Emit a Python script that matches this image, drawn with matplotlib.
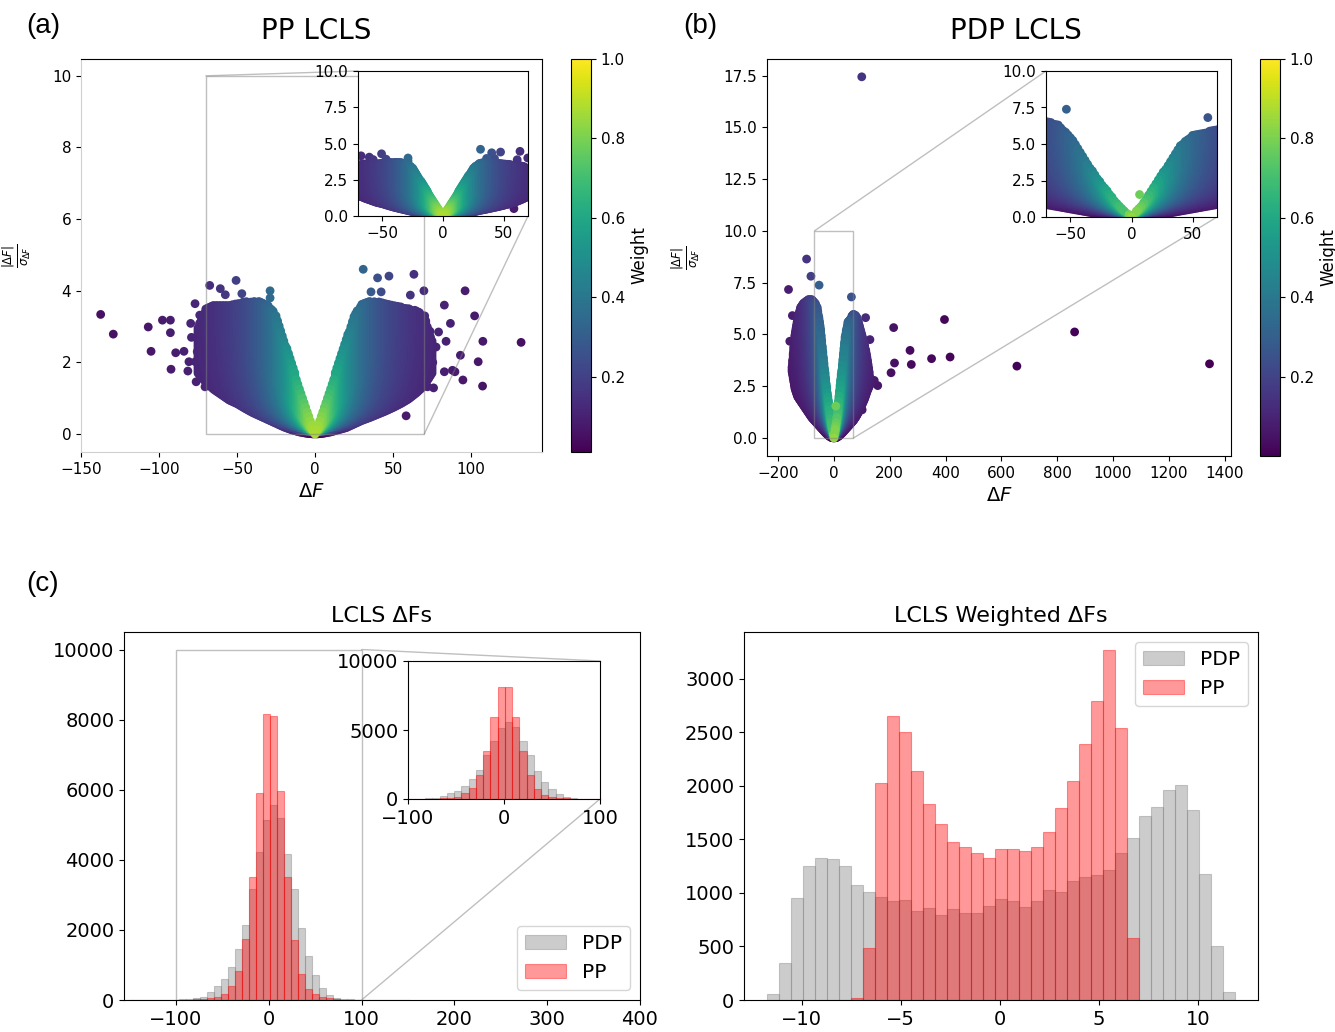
import numpy as np
import matplotlib
matplotlib.use("Agg")
import matplotlib.pyplot as plt
from matplotlib.colors import Normalize
from matplotlib.patches import Rectangle, ConnectionPatch

# ---------------- PP LCLS: |dF|/sigma vs dF ----------------
# dense body of the cloud: lower / upper |dF|/sigma bound per dF
pp_env_df = [-75, -70, -65, -60, -55, -50, -45, -40, -35, -30, -25, -20, -15, -10, -5, 0,
             5, 10, 15, 20, 25, 30, 35, 40, 45, 50, 55, 60, 65, 70, 75]
pp_env_top = [3.0, 3.5, 3.6, 3.6, 3.6, 3.65, 3.7, 3.7, 3.7, 3.6, 3.3, 2.65, 2.0, 1.3, 0.65, 0.05,
              0.65, 1.3, 2.0, 2.65, 3.3, 3.65, 3.7, 3.7, 3.65, 3.6, 3.55, 3.5, 3.45, 3.3, 2.6]
pp_env_bot = [1.7, 1.45, 1.25, 1.1, 0.95, 0.85, 0.72, 0.6, 0.5, 0.4, 0.3, 0.2, 0.12, 0.06, 0.02, 0.0,
              0.02, 0.06, 0.12, 0.18, 0.28, 0.38, 0.46, 0.55, 0.64, 0.74, 0.85, 0.98, 1.15, 1.35, 1.7]
# isolated PP reflections outside the dense body
pp_out_df = [-137.4, -129.3, -106.9, -105.1, -97.8, -92.7, -92.7, -92.3, -89.3, -84.0, -81.5, -80.8,
             -79.7, -79.2, -76.9, -76.2, -75.5, -76.7, -72.8, -70.5, -73.9, -67.5, -60.7, -57.5,
             -50.6, -46.9, -55.6, -28.8, -28.8, -26.8, -64.8,
             30.9, 40.1, 47.4, 63.4, 35.9, 42.4, 61.1, 69.8, 96.2, 102.3, 82.9, 86.8, 79.2, 73.7,
             70.3, 84.0, 77.6, 88.1, 82.9, 75.5, 93.2, 94.8, 104.6, 107.6, 107.4, 89.7, 132.1,
             72.1, 76.0, 58.4, 64.6]
pp_out_y = [3.34, 2.79, 2.99, 2.31, 3.18, 3.18, 2.83, 1.81, 2.27, 2.31, 1.76, 2.02,
            3.09, 2.70, 3.64, 1.46, 2.30, 2.02, 1.63, 1.32, 3.32, 4.15, 4.06, 3.89,
            4.29, 3.92, 0.99, 4.00, 3.80, 3.43, 1.53,
            4.60, 4.36, 4.41, 4.46, 3.97, 3.97, 3.88, 4.00, 4.00, 3.30, 3.60, 3.09, 2.85, 2.87,
            3.30, 2.59, 2.43, 1.78, 1.74, 2.00, 2.20, 1.51, 2.02, 2.59, 1.34, 1.74, 2.56,
            1.32, 1.29, 0.51, 1.64]

# ---------------- PDP LCLS ----------------
pdp_env_df = [-150, -140, -130, -120, -110, -100, -90, -80, -70, -60, -50, -40, -30, -20, -10, 0,
              10, 20, 30, 40, 50, 60, 70, 80, 90, 100, 110, 120, 130]
pdp_env_top = [3.5, 5.0, 5.8, 6.3, 6.5, 6.6, 6.7, 6.7, 6.6, 6.3, 5.5, 4.2, 2.9, 1.8, 0.75, 0.05,
               1.0, 2.3, 3.6, 4.9, 5.6, 5.8, 6.0, 5.9, 5.5, 5.0, 4.5, 3.8, 2.8]
pdp_env_bot = [3.2, 2.4, 2.0, 1.8, 1.6, 1.4, 1.2, 1.0, 0.85, 0.7, 0.55, 0.4, 0.25, 0.12, 0.03, 0.0,
               0.03, 0.12, 0.25, 0.4, 0.55, 0.7, 0.85, 1.05, 1.3, 1.6, 1.9, 2.3, 2.6]
pdp_out_df = [99.6, 213.9, 217.0, 204.6, 272.6, 277.2, 349.8, 396.1, 416.2, 655.6, 862.5, 1346.0,
              156.8, 144.4, 101.0, 128.9, 113.4, 62.5,
              -162.9, -149.0, -158.3, -98.1, -82.6, -53.3, -133.6, -129.0, -110.4, -45.6, -136.7,
              6.6]
pdp_out_y = [17.44, 5.33, 3.62, 3.15, 4.23, 3.55, 3.83, 5.72, 3.91, 3.47, 5.12, 3.58,
             2.53, 2.78, 1.36, 4.75, 5.81, 6.81,
             7.17, 5.91, 4.67, 8.64, 7.81, 7.38, 2.86, 2.41, 1.81, 0.52, 4.55,
             1.54]

# weighting scheme parameters (sigma scale, dF scale, dF exponent, sigma floor)
pp_weight_par = (45.0, 20.0, 1.5, 17.0)
pdp_weight_par = (25.0, 32.0, 1.5, 11.0)

# ---------------- histograms of dF ----------------
dF_bin_start = -150.1
dF_bin_width = 7.55
pdp_dF_counts = [3, 4, 5, 6, 8, 10, 14, 20, 30, 50,
                 85, 228, 399, 589, 940, 1444, 2137, 3153, 4217, 5147, 5575, 5195, 4179, 3172,
                 2051, 1254, 703, 351, 142, 66, 28,
                 18, 12, 9, 7, 6, 5, 4, 3, 3]
pp_dF_counts = [2, 3, 3, 4, 5, 6, 8, 10, 12, 15,
                25, 47, 85, 161, 399, 826, 1747, 3514, 5907, 8150, 8100, 5955, 3514, 1709,
                731, 323, 161, 85, 47, 20, 10,
                8, 6, 5, 4, 3, 3, 2, 2, 2]

# ---------------- histograms of weighted dF ----------------
wdF_bin_start = -11.73
wdF_bin_width = 0.604
pdp_wdF_counts = [56, 348, 957, 1250, 1327, 1312, 1250, 1072, 1010, 964, 923, 932, 833, 855,
                  793, 846, 808, 808, 880, 945, 923, 870, 923, 1026, 1010, 1113, 1150, 1163,
                  1212, 1377, 1508, 1716, 1803, 1958, 2005, 1778, 1172, 504, 71]
pp_wdF_counts = [0, 0, 0, 0, 0, 0, 0, 20, 488, 2030, 2648, 2502, 2136, 1834, 1641, 1477, 1427,
                 1374, 1327, 1414, 1414, 1390, 1427, 1564, 1794, 2046, 2388, 2790, 3272, 2539,
                 581, 0, 0, 0, 0, 0, 0, 0, 0]


def cloud_points(env_df, env_top, env_bot, out_df, out_y, dx, dy):
    """Fill the dense body on a regular grid and append the isolated points."""
    xs, ys = [], []
    for x in np.arange(env_df[0], env_df[-1] + dx / 2, dx):
        lo = np.interp(x, env_df, env_bot)
        hi = np.interp(x, env_df, env_top)
        col = np.arange(lo, hi + 1e-9, dy)
        if col.size == 0:
            col = np.array([lo])
        xs.append(np.full(col.size, x))
        ys.append(col)
    x = np.concatenate(xs + [np.asarray(out_df, float)])
    y = np.concatenate(ys + [np.asarray(out_y, float)])
    return x, y


def weight(dF, ratio, par):
    s0, f0, p, smin = par
    sig = np.abs(dF) / np.maximum(ratio, 1e-3)
    sig = np.maximum(sig, smin)
    return 1.0 / (1.0 + (sig / s0) ** 2 + (np.abs(dF) / f0) ** p)


W, H = 1335, 1032
fig = plt.figure(figsize=(W / 100, H / 100), dpi=100)


def px_axes(x0, y0, x1, y1):
    return fig.add_axes([x0 / W, 1 - y1 / H, (x1 - x0) / W, (y1 - y0) / H])


ax_a = px_axes(81, 59, 542, 452)
cax_a = px_axes(571, 59, 591, 452)
ins_a = px_axes(358, 71, 528, 216)
ax_b = px_axes(767, 59, 1231, 456)
cax_b = px_axes(1260, 59, 1280, 456)
ins_b = px_axes(1046, 71, 1217, 217)
ax_c1 = px_axes(124, 632, 640, 1000)
ins_c = px_axes(408, 661, 600, 799)
ax_c2 = px_axes(744, 632, 1258, 1000)

SC_SIZE = 40
ZOOM_STYLE = dict(color="0.5", alpha=0.5, lw=1.0)
yfrac = r"$\frac{|\Delta F|}{\sigma_{\Delta F}}$"


def draw_cloud(axes_list, x, y, w, norm):
    order = np.argsort(w)
    sc = None
    for ax in axes_list:
        sc = ax.scatter(x[order], y[order], c=w[order], cmap="viridis", norm=norm,
                        s=SC_SIZE, linewidths=0)
    return sc


def mark_zoom(ax, ins, corners):
    """Outline the zoomed region on ax and join the chosen corners to the inset."""
    x0, x1 = ins.get_xlim()
    y0, y1 = ins.get_ylim()
    ax.add_patch(Rectangle((x0, y0), x1 - x0, y1 - y0, fill=False, zorder=4.99,
                           ec=ZOOM_STYLE["color"], alpha=ZOOM_STYLE["alpha"],
                           lw=ZOOM_STYLE["lw"]))
    for cx, cy in corners:
        con = ConnectionPatch(xyA=(x0 if cx == 0 else x1, y0 if cy == 0 else y1),
                              coordsA=ax.transData, xyB=(cx, cy), coordsB=ins.transAxes,
                              zorder=4.99, **ZOOM_STYLE)
        ax.add_artist(con)


# ----- (a) PP -----
x_pp, y_pp = cloud_points(pp_env_df, pp_env_top, pp_env_bot, pp_out_df, pp_out_y, 1.0, 0.06)
w_pp = weight(x_pp, y_pp, pp_weight_par)
sc_a = draw_cloud([ax_a, ins_a], x_pp, y_pp, w_pp, Normalize(0.01, 1.0))
ax_a.set_xlim(-150, 145.5)
ax_a.set_ylim(-0.5, 10.47)
ax_a.set_xticks([-150, -100, -50, 0, 50, 100])
ax_a.set_yticks([0, 2, 4, 6, 8, 10])
ax_a.tick_params(labelsize=11)
for side in ("left", "bottom"):
    ax_a.spines[side].set_color("#d0d0d0")
ax_a.set_xlabel(r"$\Delta F$", fontsize=14)
ax_a.set_ylabel(yfrac, fontsize=12)
ax_a.yaxis.set_label_coords(-0.105, 0.5)

ins_a.set_xlim(-70, 70)
ins_a.set_ylim(0, 10)
ins_a.set_xticks([-50, 0, 50])
ins_a.set_yticks([0, 2.5, 5, 7.5, 10])
ins_a.tick_params(labelsize=11)
mark_zoom(ax_a, ins_a, [(0, 1), (1, 0)])

cb_a = fig.colorbar(sc_a, cax=cax_a)
cb_a.set_ticks([0.2, 0.4, 0.6, 0.8, 1.0])
cb_a.ax.tick_params(labelsize=11)
cb_a.set_label("Weight", fontsize=12)

# ----- (b) PDP -----
x_pdp, y_pdp = cloud_points(pdp_env_df, pdp_env_top, pdp_env_bot, pdp_out_df, pdp_out_y, 2.0, 0.08)
w_pdp = weight(x_pdp, y_pdp, pdp_weight_par)
sc_b = draw_cloud([ax_b, ins_b], x_pdp, y_pdp, w_pdp, Normalize(0.0, 1.0))
ax_b.set_xlim(-240, 1423)
ax_b.set_ylim(-0.87, 18.3)
ax_b.set_xticks(np.arange(-200, 1401, 200))
ax_b.set_yticks(np.arange(0, 17.6, 2.5))
ax_b.tick_params(labelsize=11)
ax_b.set_xlabel(r"$\Delta F$", fontsize=14)
ax_b.set_ylabel(yfrac, fontsize=12)
ax_b.yaxis.set_label_coords(-0.14, 0.5)

ins_b.set_xlim(-70, 70)
ins_b.set_ylim(0, 10)
ins_b.set_xticks([-50, 0, 50])
ins_b.set_yticks([0, 2.5, 5, 7.5, 10])
ins_b.tick_params(labelsize=11)
mark_zoom(ax_b, ins_b, [(0, 1), (1, 0)])

cb_b = fig.colorbar(sc_b, cax=cax_b)
cb_b.set_ticks([0.2, 0.4, 0.6, 0.8, 1.0])
cb_b.ax.tick_params(labelsize=11)
cb_b.set_label("Weight", fontsize=12)


# ----- (c) histograms -----
def draw_hist(ax, start, width, counts, color, label=None):
    counts = np.asarray(counts, float)
    left = start + width * np.arange(counts.size)
    keep = counts > 0
    ax.bar(left[keep], counts[keep], width=width, align="edge", color=color, alpha=0.4,
           edgecolor=color, linewidth=0.8, label=label)


for ax in (ax_c1, ins_c):
    draw_hist(ax, dF_bin_start, dF_bin_width, pdp_dF_counts, "gray", "PDP")
    draw_hist(ax, dF_bin_start, dF_bin_width, pp_dF_counts, "red", "PP")
ax_c1.set_xlim(-156, 400)
ax_c1.set_ylim(0, 10500)
ax_c1.set_xticks([-100, 0, 100, 200, 300, 400])
ax_c1.set_yticks([0, 2000, 4000, 6000, 8000, 10000])
ax_c1.tick_params(labelsize=14)
ax_c1.set_title("LCLS ΔFs", fontsize=16, pad=7)
ax_c1.legend(loc="lower right", fontsize=14.5)

ins_c.set_xlim(-100, 100)
ins_c.set_ylim(0, 10000)
ins_c.set_xticks([-100, 0, 100])
ins_c.set_yticks([0, 5000, 10000])
ins_c.tick_params(labelsize=14)
mark_zoom(ax_c1, ins_c, [(1, 1), (1, 0)])

draw_hist(ax_c2, wdF_bin_start, wdF_bin_width, pdp_wdF_counts, "gray", "PDP")
draw_hist(ax_c2, wdF_bin_start, wdF_bin_width, pp_wdF_counts, "red", "PP")
ax_c2.set_xlim(-12.9, 13.0)
ax_c2.set_ylim(0, 3436)
ax_c2.set_xticks([-10, -5, 0, 5, 10])
ax_c2.set_yticks(np.arange(0, 3001, 500))
ax_c2.tick_params(labelsize=14)
ax_c2.set_title("LCLS Weighted ΔFs", fontsize=16, pad=7)
ax_c2.legend(loc="upper right", fontsize=14.5)

# ----- titles and panel letters -----
fig.text(316 / W, 1 - 31 / H, "PP LCLS", ha="center", va="center", fontsize=20)
fig.text(1016 / W, 1 - 31 / H, "PDP LCLS", ha="center", va="center", fontsize=20)
for letter, (px, py) in {"(a)": (43, 26), "(b)": (700, 26), "(c)": (43, 584)}.items():
    fig.text(px / W, 1 - py / H, letter, ha="center", va="center", fontsize=20,
             family="Liberation Sans")

fig.savefig("out.png", dpi=100)
